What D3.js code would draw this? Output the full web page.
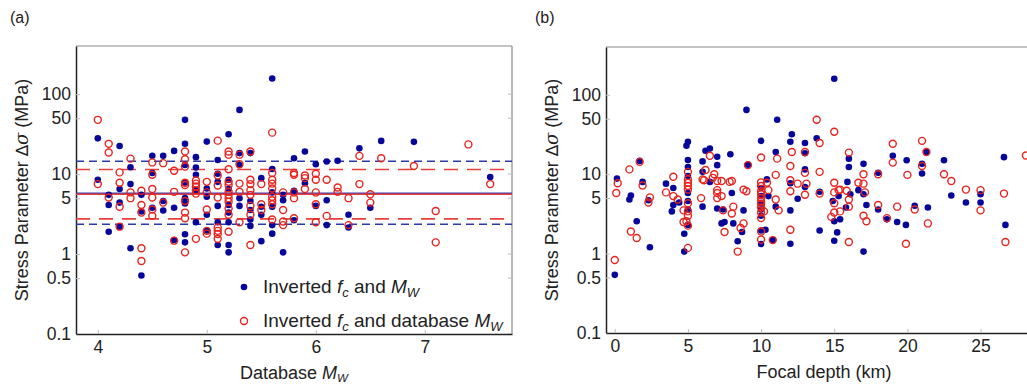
<!DOCTYPE html>
<html>
<head>
<meta charset="utf-8">
<script src="https://cdn.jsdelivr.net/npm/d3@7"></script>
<style>
  body { margin: 0; background: #fff; }
  svg { display: block; font-family: "Liberation Sans", Arial, sans-serif; }
</style>
</head>
<body>
<svg id="chart" width="1027" height="385"></svg>
<script>
// panel (a): database Mw vs stress parameter (MPa)
const mwInverted = [
  [4.0,28],[4.0,8.5],[4.1,5.5],[4.1,4.1],[4.1,1.9],[4.2,22.5],[4.2,6.5],[4.2,4.4],[4.2,2.2],
  [4.3,12.2],[4.3,7.5],[4.3,1.18],[4.4,5.5],[4.4,3.4],[4.4,0.54],[4.5,16.9],[4.5,10.3],[4.5,3.8],
  [4.6,16.9],[4.6,4.6],[4.6,3.5],[4.7,19.5],[4.7,3.8],[4.7,1.5],
  [4.8,47.7],[4.8,24],[4.8,13],[4.8,7.8],[4.8,5.0],[4.8,4.3],[4.8,1.77],[4.8,1.4],
  [4.9,16.3],[4.9,12.1],[4.9,9.8],[4.9,6.3],[4.9,2.5],[5.0,25.5],[5.0,6.6],[5.0,5.2],[5.0,3.1],[5.0,1.97],
  [5.1,15],[5.1,10.1],[5.1,8.0],[5.1,4.0],[5.1,2.5],[5.1,1.3],
  [5.2,31.5],[5.2,8.5],[5.2,6.5],[5.2,4.1],[5.2,3.3],[5.2,2.5],[5.2,1.3],[5.2,1.05],
  [5.3,63.5],[5.3,18.3],[5.3,13],[5.3,5.0],[5.3,4.0],[5.4,18.3],[5.4,4.6],[5.4,3.55],[5.4,2.7],[5.4,2.25],
  [5.5,8.9],[5.5,3.9],[5.5,3.1],[5.5,1.45],[5.6,157],[5.6,11.6],[5.6,5.9],[5.6,3.9],[5.6,2.3],[5.6,1.8],
  [5.7,5.5],[5.7,4.7],[5.7,1.05],[5.8,15.8],[5.8,6.2],[5.8,2.65],[5.9,19.2],[5.9,7.7],
  [6.0,13.3],[6.0,4.0],[6.1,14.4],[6.1,4.7],[6.1,2.3],[6.2,14.7],[6.3,3.1],[6.3,2.15],
  [6.4,21],[6.5,3.8],[6.6,26],[6.9,25.3],[7.6,9.2]
];
const mwDatabase = [
  [4.0,47.7],[4.0,7.5],[4.1,23.9],[4.1,18.6],[4.1,5.1],[4.2,10.5],[4.2,7.8],[4.2,3.9],[4.2,2.2],
  [4.3,15.6],[4.3,5.9],[4.3,5.0],[4.4,6.2],[4.4,4.1],[4.4,3.3],[4.4,1.18],[4.4,0.82],
  [4.5,14],[4.5,9.8],[4.5,6.5],[4.5,5.1],[4.5,3.6],[4.5,3.0],[4.6,13.7],[4.6,4.4],
  [4.7,11],[4.7,6.0],[4.7,1.47],
  [4.8,19.2],[4.8,15.3],[4.8,12.4],[4.8,7.8],[4.8,7.3],[4.8,4.6],[4.8,3.3],[4.8,2.8],[4.8,1.05],
  [4.9,8.3],[4.9,7.6],[4.9,7.0],[4.9,6.3],[4.9,5.7],[4.9,1.55],
  [5.0,8.0],[5.0,5.9],[5.0,3.6],[5.0,1.95],[5.0,1.8],
  [5.1,26.2],[5.1,9.6],[5.1,7.2],[5.1,5.1],[5.1,2.15],[5.1,1.95],[5.1,1.78],[5.1,1.55],
  [5.2,19.2],[5.2,17.5],[5.2,11.5],[5.2,8.0],[5.2,7.3],[5.2,6.0],[5.2,5.5],[5.2,5.0],[5.2,4.5],[5.2,3.7],[5.2,3.1],[5.2,1.9],
  [5.3,17.5],[5.3,13.3],[5.3,7.6],[5.3,6.0],[5.3,2.5],
  [5.4,19.2],[5.4,8.5],[5.4,7.5],[5.4,6.3],[5.4,5.5],[5.4,4.0],[5.4,3.1],[5.4,1.3],
  [5.5,7.5],[5.5,4.2],[5.5,3.55],
  [5.6,33],[5.6,10.3],[5.6,8.5],[5.6,7.6],[5.6,6.6],[5.6,5.2],[5.6,4.7],[5.6,4.2],[5.6,2.7],
  [5.7,5.9],[5.7,3.55],[5.7,2.55],[5.7,2.3],[5.8,10.3],[5.8,9.8],[5.8,5.9],[5.8,5.0],[5.8,2.8],
  [5.9,9.6],[5.9,8.9],[5.9,6.5],[6.0,10.1],[6.0,8.5],[6.0,5.9],[6.0,4.2],[6.0,2.5],
  [6.1,8.5],[6.1,3.0],[6.2,6.8],[6.2,6.0],[6.3,5.0],[6.3,2.3],[6.4,16.9],[6.4,7.5],
  [6.5,5.6],[6.5,4.4],[6.6,15.8],[6.9,12.6],[7.1,3.45],[7.1,1.4],[7.4,23.5],[7.6,7.5]
];
// mean and +/- one standard deviation lines (MPa)
const invertedLines = { mean: 5.75, lower: 2.36, upper: 14.5 };
const databaseLines = { mean: 5.6, lower: 2.75, upper: 11.4 };

// panel (b): focal depth (km) vs stress parameter (MPa)
const depthInverted = [
  [0,0.54],[0.15,8.8],[1.0,4.8],[1.1,5.4],[1.5,2.55],[1.7,14.7],[1.9,8.0],[2.3,4.7],[2.4,1.2],
  [3.5,7.6],[4.0,6.7],[3.9,3.4],[4.0,4.1],[4.4,4.4],
  [5,25.6],[4.9,22.8],[5,15.1],[5,12.3],[5,9.5],[5,5.8],[5,4.6],[5,3.6],[5,2.3],[4.75,1.78],[4.75,1.06],
  [6.2,19.7],[6.5,21],[6.0,14.5],[6.0,10.7],[6.0,3.9],[6.5,8.0],
  [7.0,16.6],[7.0,13.0],[7.0,3.7],[7.4,3.6],[7.3,2.4],[7.5,2.5],
  [7.9,17.8],[8.0,5.8],[8.1,2.4],[8.4,1.43],[8.7,1.87],[8.8,3.5],[9.0,64.5],[9.1,13.2],
  [10,26.3],[10,6.7],[10,5.3],[10,4.3],[10,3.6],[10,3.0],[10,1.32],[10,1.95],[10.4,8.6],[10.5,5.3],[10.3,2.0],[10.8,1.48],
  [11.1,48.6],[11.0,19],[11.0,3.9],
  [12.1,31.8],[12.0,25.6],[12,7.7],[12,3.5],[12,1.33],[12.5,4.9],
  [13,24.7],[13,18.4],[13,11.5],[13,6.9],[13.8,28.3],[14,6.0],[14,1.95],
  [15,159],[14.9,4.6],[15,2.55],[15,1.45],[15.2,1.85],[15.3,5.3],[15.4,2.7],
  [16,15.7],[16,12.3],[15.9,8.0],[16.1,5.6],[15.8,3.8],
  [16.65,6.3],[17,13.5],[17,5.6],[17.2,4.1],[17,1.06],
  [18,10.4],[18,3.6],[18.6,2.7],[19,17.1],[19.3,2.5],[19.95,15],[19.9,2.3],
  [21,13.5],[21,10.2],[21.3,19],[20.5,4.0],[21.4,3.8],
  [22.5,15],[23,5.4],[24,4.4],[25,5.6],[25,4.4],[26.6,16.4],[26.7,2.3]
];
const depthDatabase = [
  [0,0.83],[0.2,7.7],[0.1,5.8],[1.0,11.5],[1.1,1.9],[1.5,1.57],[1.7,14.3],[1.9,7.2],[2.3,4.4],[2.4,5.1],
  [3.5,5.9],[4.0,9.3],[4.0,5.3],[4.3,4.8],
  [5,10.7],[5,8.6],[5,7.8],[5,7.1],[5,6.4],[5,4.3],[5,3.4],[5,3.0],[4.9,2.55],[5,2.25],[5,1.18],[4.7,3.5],[4.7,2.5],
  [6.2,11.3],[6.5,17.1],[6.0,8.6],[6.1,8.4],[5.9,5.0],[6.8,10],[6.7,9.0],
  [7,8.2],[7.3,8.2],[7,6.3],[7,5.8],[7,5.0],[7.3,5.3],[7.4,3.5],[7.5,1.87],
  [8.0,8.2],[7.85,8.0],[8.1,3.9],[8.0,3.2],[8.4,1.06],[8.6,2.1],[8.8,2.4],[8.8,6.4],[9.0,6.1],[9.1,13],
  [10,16.2],[10,7.9],[10,7.1],[10,6.1],[10,5.6],[10,5.0],[10,4.5],[10,4.2],[10,3.8],[10,3.3],[10,2.8],[10,1.9],[10,1.5],
  [10.4,7.8],[10.5,6.3],[10.2,3.4],[10.8,1.48],
  [11.1,15.7],[11,9.8],[11,4.8],[11.2,3.5],
  [12.1,19],[12,12.7],[12,8.4],[12,6.1],[12,2.0],[12.5,7.6],
  [13,19],[13,10.4],[13.1,7.6],[13,5.5],[13.8,48.6],[14,24.7],[14,10.7],[14,5.7],
  [15,34.2],[15,7.8],[15,5.9],[15,4.3],[15,3.3],[14.8,2.9],[15.3,6.3],[15.4,6.4],[15.4,3.4],
  [16,18.7],[15.85,6.2],[16,4.8],[16,3.9],[16,1.4],
  [16.65,7.8],[17,10],[17,7.6],[17.1,5.9],[17,3.0],[17.2,2.55],
  [18,10],[18,4.1],[18.6,2.8],[19,24.2],[19,14],[19.3,3.9],[20,9.8],[19.9,1.33],
  [21,26.3],[21,12.7],[21.3,19],[20.5,3.6],[21.4,2.4],
  [22.5,10],[23,8.2],[24,6.4],[25,6.3],[25,3.5],[26.6,5.7],[26.7,1.4],[28.1,17.2]
];

const yTicks = [0.1, 0.5, 1, 5, 10, 50, 100];
const mwTicks = [4, 5, 6, 7];
const depthTicks = [0, 5, 10, 15, 20, 25];

const BLUE = '#06069a';
const RED = '#e8231e';
const TEXT = '#222';

const svg = d3.select('#chart');

function drawPanel(opts) {
  const { left, top, width, height, xDomain, xTicks, blue, red } = opts;
  const g = svg.append('g').attr('transform', `translate(${left},${top})`);

  const x = d3.scaleLinear().domain(xDomain).range([0, width]);
  const y = d3.scaleLog().domain([0.1, 400]).range([height, 0]);

  // frame: top and right are lighter
  g.append('line').attr('x1', 0).attr('x2', width).attr('y1', 0).attr('y2', 0)
    .attr('stroke', '#8a8a8a').attr('stroke-width', 1.2);
  g.append('line').attr('x1', width).attr('x2', width).attr('y1', 0).attr('y2', height)
    .attr('stroke', '#8a8a8a').attr('stroke-width', 1.2);

  // faint inner ticks on right side
  g.selectAll('.rtick').data(yTicks).enter().append('line')
    .attr('x1', width).attr('x2', width - 4)
    .attr('y1', d => y(d)).attr('y2', d => y(d))
    .attr('stroke', '#bbb');

  const yAxis = g.append('g')
    .call(d3.axisLeft(y).tickValues(yTicks).tickFormat(d => String(d))
      .tickSizeInner(-4).tickSizeOuter(0).tickPadding(5));
  yAxis.select('.domain').attr('stroke', TEXT).attr('stroke-width', 1.5);
  yAxis.selectAll('.tick line').attr('stroke', '#bbb');
  yAxis.selectAll('.tick text').attr('font-size', 17.5).attr('fill', TEXT)
    .attr('font-family', '"Liberation Sans", Arial, sans-serif');

  const xAxis = g.append('g').attr('transform', `translate(0,${height})`)
    .call(d3.axisBottom(x).tickValues(xTicks).tickFormat(d3.format('d'))
      .tickSizeInner(-4).tickSizeOuter(0).tickPadding(7));
  xAxis.select('.domain').attr('stroke', TEXT).attr('stroke-width', 1.5);
  xAxis.selectAll('.tick line').attr('stroke', '#bbb');
  xAxis.selectAll('.tick text').attr('font-size', 17.5).attr('fill', TEXT)
    .attr('font-family', '"Liberation Sans", Arial, sans-serif');

  if (opts.lines) {
    const hl = (v, color, dash, w) => g.append('line')
      .attr('x1', 0).attr('x2', width).attr('y1', y(v)).attr('y2', y(v))
      .attr('stroke', color).attr('stroke-width', w)
      .attr('stroke-dasharray', dash);
    hl(opts.lines.inv.upper, '#2a3aa8', '8,5', 1.6);
    hl(opts.lines.inv.lower, '#2a3aa8', '8,5', 1.6);
    hl(opts.lines.db.upper, '#e8403a', '14,9', 1.6);
    hl(opts.lines.db.lower, '#e8403a', '14,9', 1.6);
    hl(opts.lines.inv.mean, '#3a3ab0', null, 1.5);
    hl(opts.lines.db.mean, '#e8403a', null, 1.5);
  }

  g.append('g').selectAll('circle').data(blue).enter().append('circle')
    .attr('cx', d => x(d[0])).attr('cy', d => y(d[1])).attr('r', 3.3)
    .attr('fill', BLUE);
  g.append('g').selectAll('circle').data(red).enter().append('circle')
    .attr('cx', d => x(d[0])).attr('cy', d => y(d[1])).attr('r', 3.5)
    .attr('fill', 'none').attr('stroke', RED).attr('stroke-width', 1.4);

  // y label
  const yl = g.append('text')
    .attr('transform', `translate(${opts.yLabelX},${height / 2}) rotate(-90)`)
    .attr('text-anchor', 'middle').attr('font-size', 18).attr('fill', TEXT);
  yl.append('tspan').text('Stress Parameter ');
  yl.append('tspan').text('\u2206').attr('font-family', '"DejaVu Sans", sans-serif').attr('font-size', 17);
  yl.append('tspan').text('\u03c3').attr('font-style', 'italic').attr('font-family', '"DejaVu Serif", serif');
  yl.append('tspan').text(' (MPa)');

  // x label
  const xl = g.append('text').attr('x', width / 2).attr('y', height + 45)
    .attr('text-anchor', 'middle').attr('font-size', 18).attr('fill', TEXT);
  opts.xLabel(xl);

  // panel letter
  svg.append('text').attr('x', opts.letterX).attr('y', 23)
    .attr('font-size', 16).attr('fill', TEXT).text(opts.letter);

  return { g, x, y };
}

const pa = drawPanel({
  left: 76, top: 46, width: 436, height: 288,
  xDomain: [3.8, 7.8], xTicks: mwTicks,
  blue: mwInverted, red: mwDatabase,
  lines: { inv: invertedLines, db: databaseLines },
  yLabelX: -48, letter: '(a)', letterX: 10,
  xLabel: t => {
    t.append('tspan').text('Database ');
    t.append('tspan').text('M').attr('font-style', 'italic');
    t.append('tspan').text('W').attr('font-style', 'italic').attr('font-size', 11.5).attr('dy', 2.5);
  }
});

drawPanel({
  left: 606, top: 47, width: 436, height: 286,
  xDomain: [-0.6, 29.2], xTicks: depthTicks,
  blue: depthInverted, red: depthDatabase,
  yLabelX: -48, letter: '(b)', letterX: 535,
  xLabel: t => t.text('Focal depth (km)')
});

// legend in panel (a)
const legend = pa.g.append('g');
const legendRows = [
  { y: 241, kind: 'fill', parts: ['Inverted ', 'f', 'c', ' and ', 'M', 'W'] },
  { y: 275, kind: 'open', parts: ['Inverted ', 'f', 'c', ' and database ', 'M', 'W'] }
];
legendRows.forEach(row => {
  if (row.kind === 'fill') {
    legend.append('circle').attr('cx', 168).attr('cy', row.y).attr('r', 3.3).attr('fill', BLUE);
  } else {
    legend.append('circle').attr('cx', 168).attr('cy', row.y).attr('r', 3.5)
      .attr('fill', 'none').attr('stroke', RED).attr('stroke-width', 1.4);
  }
  const t = legend.append('text').attr('x', 187).attr('y', row.y + 6)
    .attr('font-size', 19).attr('fill', TEXT);
  t.append('tspan').text(row.parts[0]);
  t.append('tspan').text(row.parts[1]).attr('font-style', 'italic');
  t.append('tspan').text(row.parts[2]).attr('font-style', 'italic').attr('font-size', 13).attr('dy', 4);
  t.append('tspan').text(row.parts[3]).attr('dy', -4);
  t.append('tspan').text(row.parts[4]).attr('font-style', 'italic');
  t.append('tspan').text(row.parts[5]).attr('font-style', 'italic').attr('font-size', 13).attr('dy', 4);
});
</script>
</body>
</html>
